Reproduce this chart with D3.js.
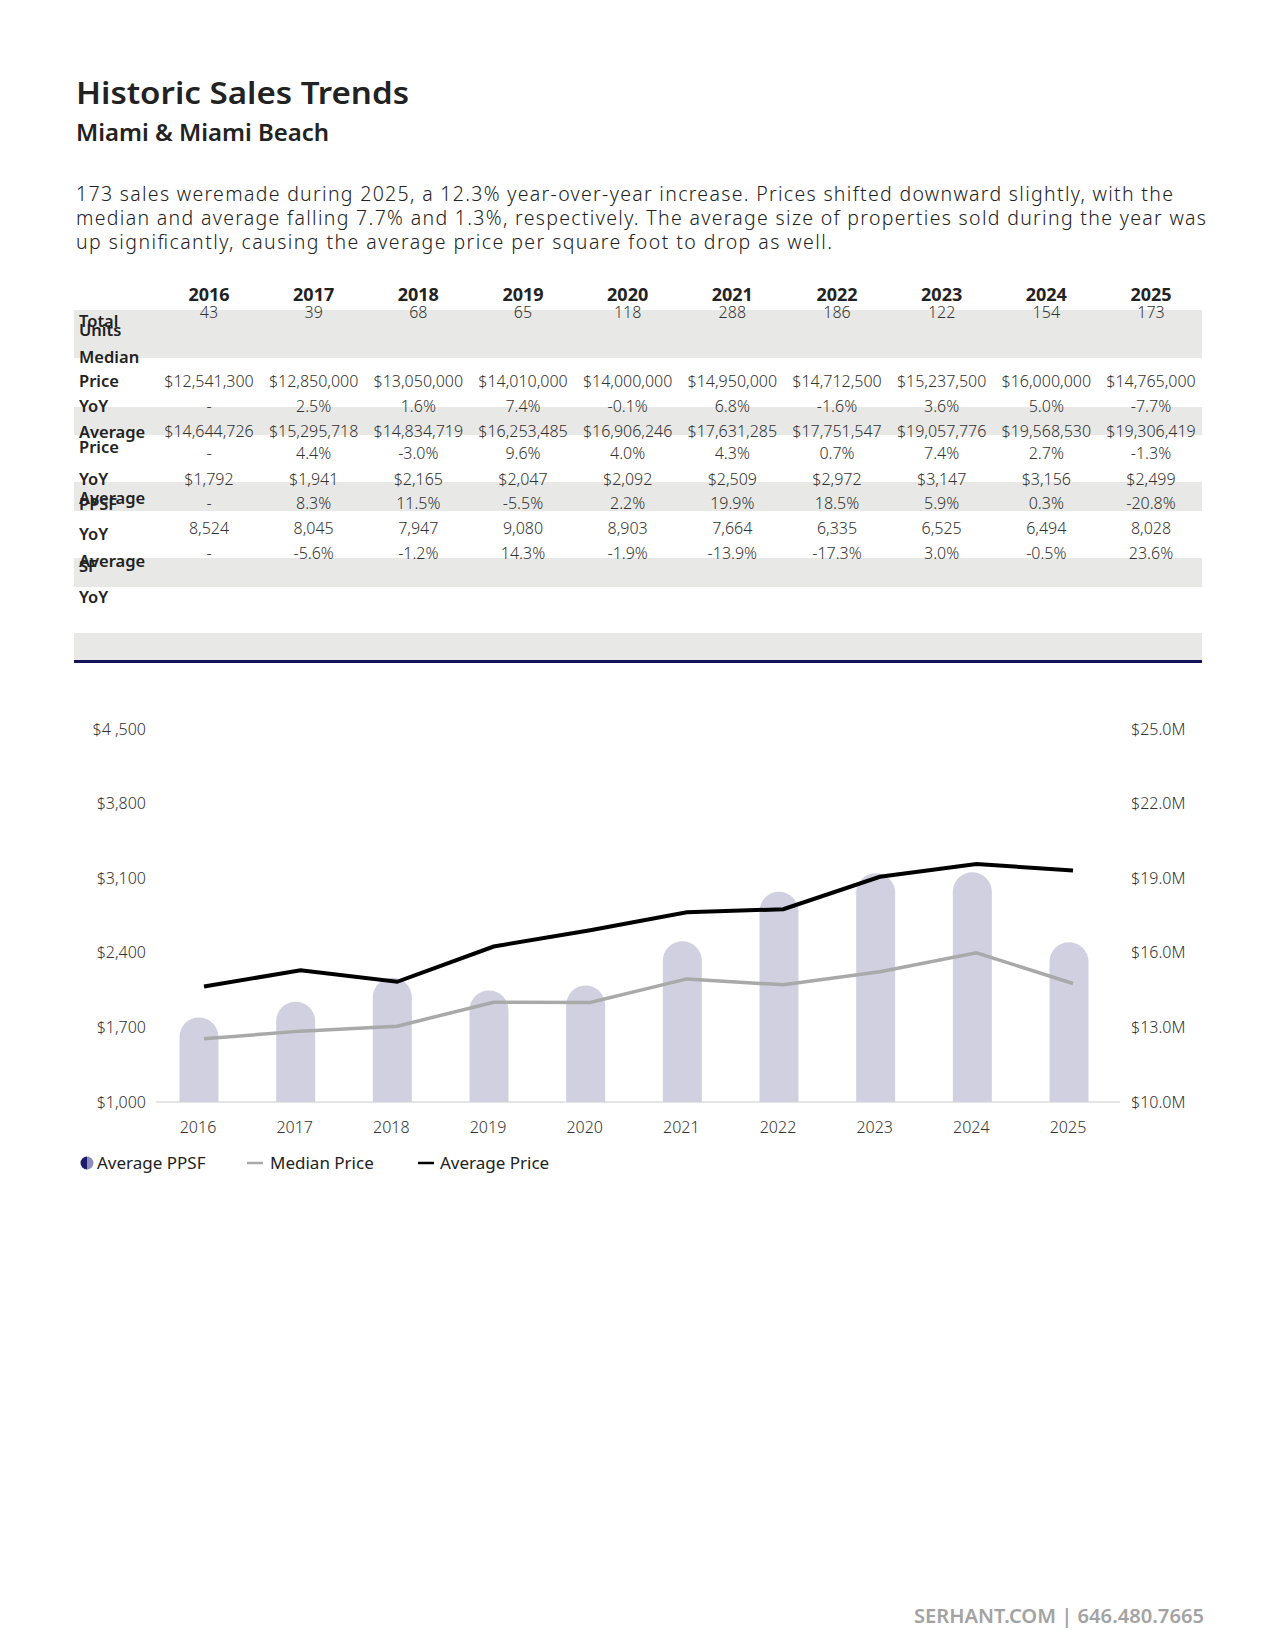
<!DOCTYPE html>
<html>
<head>
<meta charset="utf-8">
<script src="https://cdn.jsdelivr.net/npm/d3@7"></script>
<style>
  html, body { margin: 0; padding: 0; background: #fff; }
  svg text { font-family: 'Noto Sans', 'Open Sans', sans-serif; }
</style>
</head>
<body>
<svg id="page" width="1275" height="1650"></svg>
<script>
// ---------- DATA ----------
const years = ['2016','2017','2018','2019','2020','2021','2022','2023','2024','2025'];
const totalUnits = [43, 39, 68, 65, 118, 288, 186, 122, 154, 173];
const medianPrice = [12541300, 12850000, 13050000, 14010000, 14000000, 14950000, 14712500, 15237500, 16000000, 14765000];
const medianYoY = ['-', '2.5%', '1.6%', '7.4%', '-0.1%', '6.8%', '-1.6%', '3.6%', '5.0%', '-7.7%'];
const avgPrice = [14644726, 15295718, 14834719, 16253485, 16906246, 17631285, 17751547, 19057776, 19568530, 19306419];
const avgPriceYoY = ['-', '4.4%', '-3.0%', '9.6%', '4.0%', '4.3%', '0.7%', '7.4%', '2.7%', '-1.3%'];
const avgPPSF = [1792, 1941, 2165, 2047, 2092, 2509, 2972, 3147, 3156, 2499];
const ppsfYoY = ['-', '8.3%', '11.5%', '-5.5%', '2.2%', '19.9%', '18.5%', '5.9%', '0.3%', '-20.8%'];
const avgSF = [8524, 8045, 7947, 9080, 8903, 7664, 6335, 6525, 6494, 8028];
const sfYoY = ['-', '-5.6%', '-1.2%', '14.3%', '-1.9%', '-13.9%', '-17.3%', '3.0%', '-0.5%', '23.6%'];

const leftTickValues = [1000, 1700, 2400, 3100, 3800, 4500];
const leftTickLabels = ['$1,000', '$1,700', '$2,400', '$3,100', '$3,800', '$4 ,500'];
const rightTickValues = [10e6, 13e6, 16e6, 19e6, 22e6, 25e6];
const rightTickLabels = ['$10.0M', '$13.0M', '$16.0M', '$19.0M', '$22.0M', '$25.0M'];

const titleText = 'Historic Sales Trends';
const subtitleText = 'Miami & Miami Beach';
const paragraphLines = [
  '173 sales weremade during 2025, a 12.3% year-over-year increase. Prices shifted downward slightly, with the',
  'median and average falling 7.7% and 1.3%, respectively. The average size of properties sold during the year was',
  'up significantly, causing the average price per square foot to drop as well.'
];
const footerText = 'SERHANT.COM | 646.480.7665';
const legendLabels = ['Average PPSF', 'Median Price', 'Average Price'];

// ---------- DRAW ----------
const svg = d3.select('#page');
const fmtMoney = v => '$' + d3.format(',')(v);
const fmtNum = v => d3.format(',')(v);

// Header
svg.append('text').attr('x', 76).attr('y', 104)
  .attr('font-size', 31).attr('font-weight', 600).attr('fill', '#222')
  .attr('textLength', 333).attr('lengthAdjust', 'spacingAndGlyphs').text(titleText);
svg.append('text').attr('x', 76).attr('y', 141)
  .attr('font-size', 22.5).attr('font-weight', 600).attr('fill', '#222')
  .attr('textLength', 253).attr('lengthAdjust', 'spacingAndGlyphs').text(subtitleText);

const paraW = [1097, 1130, 756];
paragraphLines.forEach((l, i) => {
  svg.append('text').attr('x', 76).attr('y', 201 + i * 24)
    .attr('font-size', 19.5).attr('font-weight', 300).attr('fill', '#222')
    .attr('textLength', paraW[i]).attr('lengthAdjust', 'spacing')
    .text(l);
});

// ---------- TABLE ----------
const tx = d3.scalePoint().domain(years).range([209, 1151]);
const bands = [[310, 358], [407, 435], [482, 511], [558, 587], [633, 661]];
svg.append('g').selectAll('rect').data(bands).join('rect')
  .attr('x', 74).attr('width', 1128)
  .attr('y', d => d[0]).attr('height', d => d[1] - d[0])
  .attr('fill', '#e8e9e7');

svg.append('rect').attr('x', 74).attr('width', 1128).attr('y', 660).attr('height', 3).attr('fill', '#14145a');

// year header
svg.append('g').selectAll('text').data(years).join('text')
  .attr('x', d => tx(d)).attr('y', 301).attr('text-anchor', 'middle')
  .attr('font-size', 18).attr('font-weight', 700).attr('fill', '#222').text(d => d);

// row labels (overlapping as in the reference)
const rowLabels = [
  ['Total', 327], ['Units', 336], ['Median', 363], ['Price', 386.5], ['YoY', 411.5],
  ['Average', 438], ['Price', 453], ['YoY', 485], ['Average', 504], ['PPSF', 510],
  ['YoY', 540], ['Average', 567], ['SF', 572], ['YoY', 603]
];
svg.append('g').selectAll('text').data(rowLabels).join('text')
  .attr('x', 79).attr('y', d => d[1])
  .attr('font-size', 16.5).attr('font-weight', 600).attr('fill', '#222').text(d => d[0]);

const valueRows = [
  [totalUnits.map(fmtNum), 318],
  [medianPrice.map(fmtMoney), 386.5],
  [medianYoY, 411.5],
  [avgPrice.map(fmtMoney), 437],
  [avgPriceYoY, 458.5],
  [avgPPSF.map(fmtMoney), 485],
  [ppsfYoY, 508.5],
  [avgSF.map(fmtNum), 534],
  [sfYoY, 559]
];
valueRows.forEach(([vals, y]) => {
  svg.append('g').selectAll('text').data(vals).join('text')
    .attr('x', (d, i) => tx(years[i])).attr('y', y).attr('text-anchor', 'middle')
    .attr('font-size', 16).attr('font-weight', 300).attr('fill', '#333').text(d => d);
});

// ---------- CHART ----------
const xBar = d3.scalePoint().domain(years).range([199, 1069]);
const xLine = d3.scalePoint().domain(years).range([204, 1073]);
const yLeft = d3.scaleLinear().domain([1000, 4500]).range([1102, 729]);
const yRight = d3.scaleLinear().domain([10e6, 25e6]).range([1102, 729]);
const barW = 39;

// baseline
svg.append('line').attr('x1', 156).attr('x2', 1120)
  .attr('y1', yLeft(1000)).attr('y2', yLeft(1000))
  .attr('stroke', '#dcdcdc').attr('stroke-width', 1.5);

// bars with rounded tops
const r = barW / 2;
svg.append('g').selectAll('path').data(avgPPSF).join('path')
  .attr('d', (d, i) => {
    const cx = xBar(years[i]);
    const x0 = cx - r, x1 = cx + r;
    const top = yLeft(d), bot = yLeft(1000);
    return `M${x0},${bot} L${x0},${top + r} A${r},${r} 0 0 1 ${x1},${top + r} L${x1},${bot} Z`;
  })
  .attr('fill', '#d0d0e0');

// lines
const lineGen = d3.line().x((d, i) => xLine(years[i])).y(d => yRight(d));
svg.append('path').datum(medianPrice).attr('d', lineGen)
  .attr('fill', 'none').attr('stroke', '#a9a9a9').attr('stroke-width', 3.5);
svg.append('path').datum(avgPrice).attr('d', lineGen)
  .attr('fill', 'none').attr('stroke', '#000').attr('stroke-width', 4);

// left axis
const axL = d3.axisLeft(yLeft).tickValues(leftTickValues)
  .tickFormat((d, i) => leftTickLabels[i]).tickSize(0).tickPadding(0);
const gL = svg.append('g').attr('transform', 'translate(146,0)').call(axL);
gL.select('.domain').remove();
gL.selectAll('text').attr('font-size', 16).attr('font-weight', 300).attr('fill', '#333')
  .style('font-family', "'Noto Sans', sans-serif");

// right axis
const axR = d3.axisRight(yRight).tickValues(rightTickValues)
  .tickFormat((d, i) => rightTickLabels[i]).tickSize(0).tickPadding(0);
const gR = svg.append('g').attr('transform', 'translate(1131,0)').call(axR);
gR.select('.domain').remove();
gR.selectAll('text').attr('font-size', 16).attr('font-weight', 300).attr('fill', '#333')
  .style('font-family', "'Noto Sans', sans-serif");

// x labels
svg.append('g').selectAll('text').data(years).join('text')
  .attr('x', d => xBar(d) - 1).attr('y', 1133).attr('text-anchor', 'middle')
  .attr('font-size', 16).attr('font-weight', 300).attr('fill', '#333').text(d => d);

// legend
const ly = 1163;
const lg = svg.append('g');
lg.append('path').attr('d', `M87,${ly - 6.5} A6.5,6.5 0 0 0 87,${ly + 6.5} Z`).attr('fill', '#1c1c6b');
lg.append('path').attr('d', `M87,${ly - 6.5} A6.5,6.5 0 0 1 87,${ly + 6.5} Z`).attr('fill', '#8d8dbd');
lg.append('text').attr('x', 97).attr('y', ly + 6).attr('font-size', 17).attr('font-weight', 400)
  .attr('fill', '#222').text(legendLabels[0]);
lg.append('line').attr('x1', 247).attr('x2', 263).attr('y1', ly).attr('y2', ly)
  .attr('stroke', '#a9a9a9').attr('stroke-width', 2.5);
lg.append('text').attr('x', 270).attr('y', ly + 6).attr('font-size', 17).attr('font-weight', 400)
  .attr('fill', '#222').text(legendLabels[1]);
lg.append('line').attr('x1', 418).attr('x2', 434).attr('y1', ly).attr('y2', ly)
  .attr('stroke', '#000').attr('stroke-width', 2.5);
lg.append('text').attr('x', 440).attr('y', ly + 6).attr('font-size', 17).attr('font-weight', 400)
  .attr('fill', '#222').text(legendLabels[2]);

// footer
svg.append('text').attr('x', 1204).attr('y', 1623).attr('text-anchor', 'end')
  .attr('font-size', 19).attr('font-weight', 600).attr('fill', '#a3a3a3')
  .attr('textLength', 290).attr('lengthAdjust', 'spacingAndGlyphs').text(footerText);
</script>
</body>
</html>
